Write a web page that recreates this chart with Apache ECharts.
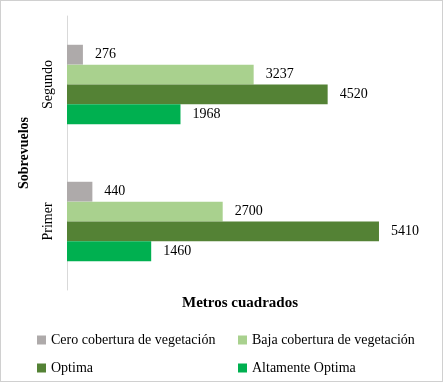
<!DOCTYPE html>
<html><head><meta charset="utf-8">
<script src="https://cdn.jsdelivr.net/npm/echarts@6/dist/echarts.min.js"></script>
<style>html,body{margin:0;padding:0;background:#fff}#c{width:443px;height:382px;box-sizing:border-box;border:1px solid #d0d0d0}</style>
</head><body><div id="c"></div>
<script>
const categories = ['Primer', 'Segundo'];
const seriesNames = ['Cero cobertura de vegetación', 'Baja cobertura de vegetación', 'Optima', 'Altamente Optima'];
const cero = [440, 276];
const baja = [2700, 3237];
const optima = [5410, 4520];
const altamente = [1460, 1968];
const colors = ['#AEAAAA', '#A9D18E', '#548235', '#00B050'];
const values = [cero, baja, optima, altamente];
const F = '"Liberation Serif", "Times New Roman", serif';

const chart = echarts.init(document.getElementById('c'));
const series = seriesNames.map((n, i) => ({
  name: n, type: 'bar', data: values[i], barGap: '0%', barCategoryGap: '42%',
  itemStyle: {color: colors[i]},
  label: {show: true, position: 'right', distance: 12, color: '#000', fontFamily: F, fontSize: 14}
}));
const legendPos = [[36, 332], [237, 332], [36, 360], [237, 360]];
chart.setOption({
  animation: false,
  textStyle: {fontFamily: F},
  grid: {left: 66, right: 29, top: 15, bottom: 91},
  xAxis: {type: 'value', min: 0, max: 6000,
    axisLine: {show: false}, axisTick: {show: false}, axisLabel: {show: false}, splitLine: {show: false},
    name: 'Metros cuadrados', nameLocation: 'middle', nameGap: 6,
    nameTextStyle: {fontFamily: F, fontSize: 15, fontWeight: 'bold', color: '#000', verticalAlign: 'top'}},
  yAxis: {type: 'category', data: categories,
    axisLine: {show: true, lineStyle: {color: '#d9d9d9'}}, axisTick: {show: false},
    axisLabel: {rotate: 90, margin: 12, fontFamily: F, fontSize: 14, color: '#000'},
    name: 'Sobrevuelos', nameLocation: 'middle', nameGap: 36,
    nameTextStyle: {fontFamily: F, fontSize: 14, fontWeight: 'bold', color: '#000'}},
  legend: seriesNames.map((n, i) => ({
    data: [n], left: legendPos[i][0], top: legendPos[i][1], padding: 0,
    itemWidth: 9, itemHeight: 9, icon: 'rect',
    textStyle: {fontFamily: F, fontSize: 14, color: '#000'}
  })),
  series: series
});
</script></body></html>
